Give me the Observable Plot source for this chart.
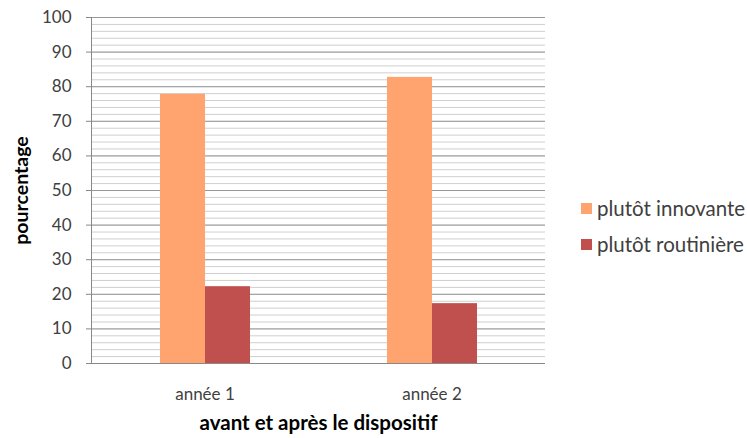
<!DOCTYPE html>
<html><head><meta charset="utf-8">
<script src="https://cdn.jsdelivr.net/npm/d3@7"></script>
<script src="https://cdn.jsdelivr.net/npm/@observablehq/plot@0.6"></script>
<style>
body{margin:0;background:#fff;}
#wrap{position:relative;width:747px;height:438px;font-family:Lato, "Open Sans", sans-serif;}
#legend{position:absolute;left:581px;top:196px;font-size:20.5px;color:#404040;}
.item{display:flex;align-items:center;height:24px;margin-bottom:12px;white-space:nowrap;}
.sw{width:11px;height:11px;margin-right:5px;flex:none;}
</style></head>
<body><div id="wrap"><div id="legend"></div></div>
<script>
const years = ["année 1", "année 2"];
const series = ["plutôt innovante", "plutôt routinière"];
const innovante = [77.8, 82.7];
const routiniere = [22.2, 17.3];
const colors = ["#FFA46F", "#C0504D"];
const yTicks = [0, 10, 20, 30, 40, 50, 60, 70, 80, 90, 100];
const minorTicks = d3.range(0, 101, 2);

const data = [];
years.forEach((y, i) => {
  data.push({year: y, series: series[0], value: innovante[i]});
  data.push({year: y, series: series[1], value: routiniere[i]});
});

const chart = Plot.plot({
  width: 747, height: 438,
  marginLeft: 91, marginRight: 202, marginTop: 17, marginBottom: 75,
  style: {fontFamily: "Lato, 'Open Sans', sans-serif", background: "#fff"},
  fx: {domain: years, padding: 0},
  x: {domain: series, paddingInner: 0, paddingOuter: 1.52, axis: null},
  y: {domain: [0, 100]},
  color: {domain: series, range: colors},
  marks: [
    Plot.ruleY(minorTicks, {stroke: "#cfcfcf"}),
    Plot.ruleY(yTicks, {stroke: "#999"}),
    Plot.barY(data, {fx: "year", x: "series", y: "value", fill: "series"}),
    Plot.ruleY([0], {stroke: "#888"}),
    Plot.frame({anchor: "left", facetAnchor: "left", stroke: "#888"}),
    Plot.axisY({ticks: yTicks, tickSize: 5, tickPadding: 15, fontSize: 17, stroke: "#888", fill: "#404040",
      label: "pourcentage", labelAnchor: "center", labelOffset: 77, labelArrow: "none"}),
    Plot.axisFx({anchor: "bottom", tickSize: 0, tickPadding: 24, fontSize: 17, fill: "#404040",
      label: "avant et après le dispositif", labelAnchor: "center", labelOffset: 66, labelArrow: "none"})
  ]
});
chart.querySelectorAll('[aria-label$="axis label"]').forEach(g => {
  const isY = g.getAttribute("aria-label").startsWith("y");
  g.setAttribute("font-weight", "bold");
  g.setAttribute("fill", "#000");
  g.setAttribute("font-size", isY ? "19.5" : "20.5");
});
document.getElementById("wrap").prepend(chart);
const legend = document.getElementById("legend");
series.forEach((s, i) => {
  const it = document.createElement("div");
  it.className = "item";
  const sw = document.createElement("span");
  sw.className = "sw"; sw.style.background = colors[i];
  const t = document.createElement("span"); t.textContent = s;
  it.append(sw, t);
  legend.append(it);
});
</script></body></html>
